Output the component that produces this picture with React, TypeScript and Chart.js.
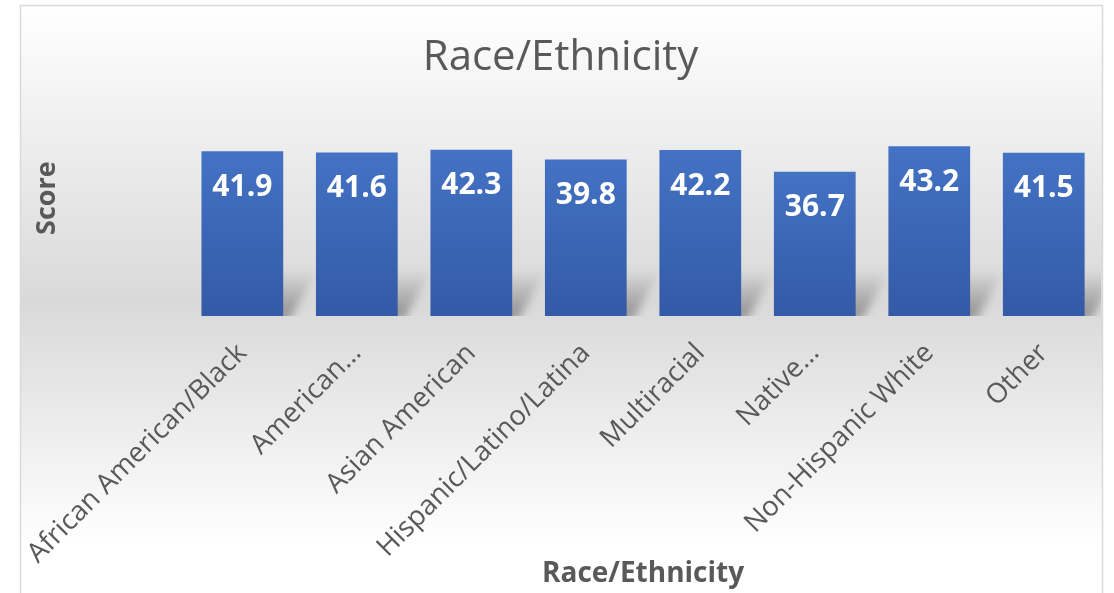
import React, { useEffect, useRef } from "react";
import { Chart, registerables } from "chart.js";

Chart.register(...registerables);

const categories = [
  "African American/Black",
  "American…",
  "Asian American",
  "Hispanic/Latino/Latina",
  "Multiracial",
  "Native…",
  "Non-Hispanic White",
  "Other",
];
const scores = [41.9, 41.6, 42.3, 39.8, 42.2, 36.7, 43.2, 41.5];
const chartTitle = "Race/Ethnicity";
const xAxisTitle = "Race/Ethnicity";
const yAxisTitle = "Score";

const FONT = "'Open Sans', 'DejaVu Sans', sans-serif";

const backgroundPlugin = {
  id: "excelBackground",
  beforeDraw(chart: any) {
    const ctx = chart.ctx;
    ctx.save();
    ctx.fillStyle = "#ffffff";
    ctx.fillRect(0, 0, chart.width, chart.height);
    const g = ctx.createLinearGradient(0, 5, 0, 545);
    g.addColorStop(0, "#ffffff");
    g.addColorStop(0.55, "#d9d9d9");
    g.addColorStop(1, "#ffffff");
    ctx.fillStyle = g;
    ctx.fillRect(20, 5, 1083, 600);
    ctx.strokeStyle = "#d9d9d9";
    ctx.lineWidth = 1.5;
    ctx.strokeRect(20.5, 5.5, 1082, 600);
    ctx.restore();
  },
};

const shadowPlugin = {
  id: "barShadow",
  beforeDatasetsDraw(chart: any) {
    const ctx = chart.ctx;
    const meta = chart.getDatasetMeta(0);
    meta.data.forEach((bar: any) => {
      const { x, base, width } = bar.getProps(["x", "base", "width"], true);
      const left = x - width / 2;
      const right = x + width / 2;
      const h = 46;
      const dx = 34;
      ctx.save();
      ctx.beginPath();
      ctx.rect(left, base - h - 10, Math.min(width + dx + 20, 1101 - left), h + 10);
      ctx.clip();
      ctx.filter = "blur(4px)";
      const g = ctx.createLinearGradient(0, base - h, 0, base);
      g.addColorStop(0, "rgba(110,110,110,0)");
      g.addColorStop(1, "rgba(110,110,110,0.65)");
      ctx.fillStyle = g;
      ctx.beginPath();
      ctx.moveTo(left + dx, base - h);
      ctx.lineTo(right + dx, base - h);
      ctx.lineTo(right + 6, base + 4);
      ctx.lineTo(left, base + 4);
      ctx.closePath();
      ctx.fill();
      ctx.restore();
    });
  },
};

const labelPlugin = {
  id: "barLabels",
  afterDatasetsDraw(chart: any) {
    const ctx = chart.ctx;
    const meta = chart.getDatasetMeta(0);
    ctx.save();
    ctx.fillStyle = "#ffffff";
    ctx.font = `bold 30px ${FONT}`;
    ctx.textAlign = "center";
    ctx.textBaseline = "middle";
    meta.data.forEach((bar: any, i: number) => {
      const { x, y } = bar.getProps(["x", "y"], true);
      ctx.fillText(scores[i].toFixed(1), x, y + 36);
    });
    ctx.restore();
  },
};

export default function App() {
  const ref = useRef<HTMLCanvasElement | null>(null);

  useEffect(() => {
    if (!ref.current) return;
    const chart = new Chart(ref.current, {
      type: "bar",
      data: {
        labels: categories,
        datasets: [
          {
            label: yAxisTitle,
            data: scores,
            backgroundColor: (c: any) => {
              const ch = c.chart;
              if (!ch.chartArea || c.raw == null) return "#4472C4";
              const top = ch.scales.y.getPixelForValue(c.raw);
              const base = ch.scales.y.getPixelForValue(0);
              const g = ch.ctx.createLinearGradient(0, top, 0, base);
              g.addColorStop(0, "#4472C4");
              g.addColorStop(1, "#335AA6");
              return g;
            },
            borderWidth: 0,
            barPercentage: 0.714,
            categoryPercentage: 1,
          },
        ],
      },
      options: {
        responsive: false,
        animation: false,
        layout: { padding: { left: 20, right: 13, top: 0, bottom: 0 } },
        plugins: {
          legend: { display: false },
          tooltip: { enabled: false },
          title: {
            display: true,
            text: chartTitle,
            color: "#595959",
            font: { family: FONT, size: 42, weight: "normal", lineHeight: 1.05 },
            padding: { top: 36, bottom: 0 },
          },
        },
        scales: {
          x: {
            grid: { display: false, drawTicks: false },
            border: { display: false },
            ticks: {
              minRotation: 45,
              maxRotation: 45,
              autoSkip: false,
              padding: 21,
              color: "#595959",
              font: { family: FONT, size: 27.5 },
            },
            title: {
              display: true,
              text: xAxisTitle,
              color: "#595959",
              font: { family: FONT, size: 28, weight: "bold" },
              padding: { top: 0, bottom: 2 },
            },
            afterFit: (s: any) => {
              s.height = 277;
            },
          },
          y: {
            min: 0,
            max: 60,
            grid: { display: false, drawTicks: false },
            border: { display: false },
            ticks: { display: false },
            title: {
              display: true,
              text: yAxisTitle,
              color: "#595959",
              font: { family: FONT, size: 27, weight: "bold" },
              padding: { top: 10, bottom: 0 },
            },
            afterFit: (s: any) => {
              s.width = 164;
            },
          },
        },
      },
      plugins: [backgroundPlugin, shadowPlugin, labelPlugin],
    });
    return () => chart.destroy();
  }, []);

  return (
    <div style={{ position: "fixed", left: 0, top: 0, width: 1114, height: 593, overflow: "hidden" }}>
      <canvas ref={ref} width={1114} height={593} style={{ display: "block", width: 1114, height: 593 }} />
    </div>
  );
}
